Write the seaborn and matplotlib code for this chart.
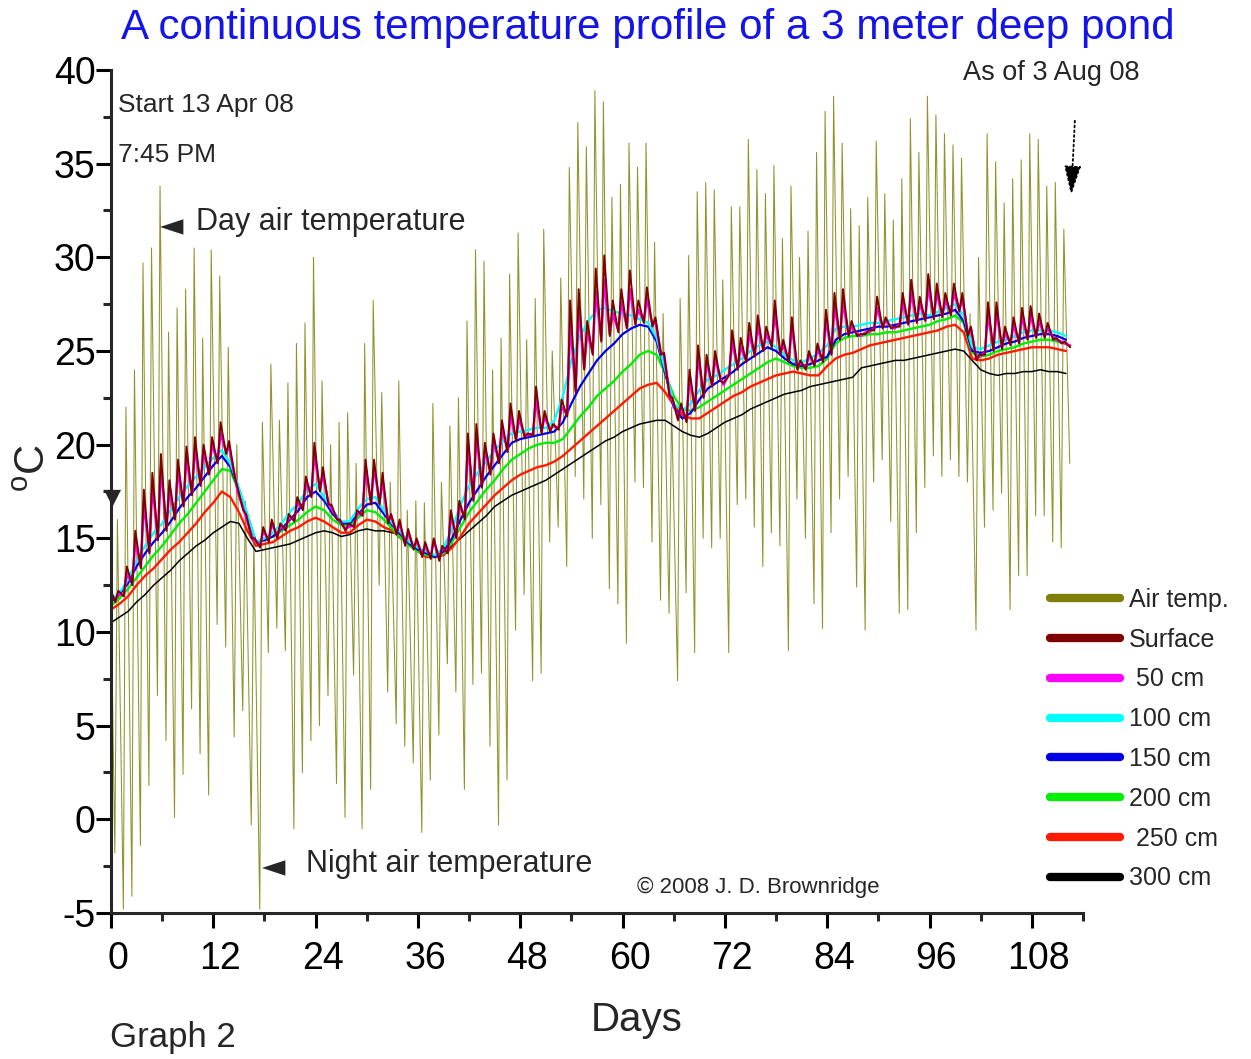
import numpy as np
import pandas as pd
import matplotlib
matplotlib.use('Agg')
import matplotlib.pyplot as plt
import matplotlib.transforms as mtransforms
from matplotlib.lines import Line2D
import seaborn as sns

# daily air temperature extremes (deg C), day 0 = 13 Apr 08 7:45 PM
air_start = 12.0
air_hi = [16.0, 22.0, 24.0, 29.7, 30.5, 33.8, 26.0, 27.3, 28.3, 30.5, 25.7, 30.4, 29.0, 25.2, 20.0, 17.0,
          15.0, 21.2, 24.3, 21.3, 23.3, 25.4, 26.5, 30.0, 23.4, 20.0, 21.2, 21.7, 19.0, 25.4, 27.7, 22.8,
          18.0, 23.4, 16.5, 17.0, 16.9, 22.2, 18.0, 21.0, 22.5, 26.6, 30.4, 29.8, 24.0, 25.7, 29.1, 31.3,
          25.6, 27.8, 31.5, 25.0, 28.9, 34.8, 37.2, 35.9, 38.9, 38.3, 33.2, 33.9, 36.1, 34.8, 36.1, 30.8,
          27.0, 22.0, 27.8, 30.1, 33.5, 34.0, 33.6, 28.8, 32.7, 32.7, 36.3, 34.7, 33.4, 34.9, 31.0, 33.8,
          30.0, 31.4, 35.6, 37.8, 38.6, 36.1, 32.6, 31.7, 33.2, 36.2, 33.4, 32.0, 34.2, 37.4, 35.6, 38.6,
          37.6, 36.6, 36.0, 35.3, 27.0, 30.0, 36.6, 35.1, 32.9, 34.2, 35.2, 36.6, 36.3, 33.8, 34.0, 31.5]
air_lo = [-1.8, -4.8, -4.1, -1.4, 1.8, 6.6, 4.2, 0.1, 2.4, 5.9, 3.5, 1.3, 10.4, 9.2, 4.4, 5.8,
          -0.3, -4.8, 8.9, 10.2, 9.0, -0.5, 2.5, 4.2, 5.0, 6.6, 1.9, 0.1, 7.7, -0.5, 1.6, 12.5,
          6.8, 5.1, 3.9, 3.0, -0.7, 2.1, 4.5, 8.3, 6.8, 1.6, 7.2, 7.8, 3.9, -0.3, 2.1, 10.1,
          12.0, 7.4, 7.8, 14.8, 15.6, 13.5, 18.3, 17.1, 15.0, 16.8, 12.3, 11.5, 9.4, 18.0, 17.7, 14.8,
          11.7, 11.0, 7.4, 12.1, 8.9, 15.0, 14.5, 15.0, 8.9, 16.8, 17.1, 15.6, 13.5, 15.3, 14.6, 9.0,
          17.1, 15.0, 11.5, 10.2, 15.3, 17.1, 18.3, 12.4, 10.1, 18.0, 19.2, 15.9, 11.0, 11.2, 15.3, 17.7,
          19.4, 18.3, 19.2, 18.3, 18.0, 10.1, 15.6, 16.5, 17.4, 11.2, 13.0, 13.0, 16.2, 16.2, 14.8, 14.5, 19.0]

# pond surface and 50 cm: daily highs / lows
surf_start = 12.2
surf_hi = [12.2, 13.5, 15.4, 17.6, 18.5, 19.5, 18.1, 19.2, 19.9, 20.4, 20.0, 20.4, 21.2, 20.2, 17.7, 16.3,
           15.0, 15.6, 16.0, 15.8, 16.3, 17.2, 18.3, 20.1, 18.8, 16.8, 16.0, 15.8, 16.5, 19.2, 19.2, 18.5,
           16.3, 16.0, 15.5, 15.0, 14.8, 15.0, 14.6, 16.5, 17.0, 20.6, 21.1, 20.1, 20.6, 21.3, 22.2, 21.8,
           20.6, 23.1, 21.8, 21.1, 22.4, 27.7, 28.3, 26.6, 29.4, 30.1, 27.7, 28.3, 29.3, 27.7, 28.4, 26.8,
           24.9, 22.5, 22.2, 24.0, 25.3, 24.8, 25.0, 23.3, 26.1, 25.7, 26.5, 26.9, 26.3, 27.7, 25.6, 26.8,
           24.5, 25.0, 25.4, 27.2, 28.1, 28.3, 26.6, 25.9, 26.1, 27.9, 26.8, 26.3, 28.1, 28.8, 27.9, 29.1,
           28.6, 28.1, 28.6, 28.1, 26.3, 24.8, 27.6, 27.6, 26.3, 26.8, 27.3, 27.4, 27.0, 26.5, 25.7, 25.5]
surf_lo = [11.6, 11.9, 12.5, 13.4, 14.2, 14.9, 15.4, 16.0, 16.7, 17.3, 17.8, 18.4, 19.0, 19.5, 18.3, 16.5,
           15.0, 14.5, 14.8, 15.0, 15.4, 15.9, 16.5, 17.2, 17.5, 16.8, 16.0, 15.4, 15.6, 16.2, 16.8, 16.8,
           15.8, 15.2, 14.6, 14.4, 14.0, 13.9, 13.8, 14.2, 15.0, 16.0, 17.0, 17.7, 18.4, 19.0, 19.6, 20.2,
           20.4, 20.5, 20.6, 20.7, 20.8, 21.5, 22.8, 24.0, 24.8, 25.5, 25.8, 26.0, 26.2, 26.4, 26.5, 26.3,
           24.8, 22.6, 21.3, 21.2, 21.8, 22.5, 23.1, 23.4, 23.7, 24.0, 24.4, 24.7, 25.0, 25.2, 24.8, 24.4,
           24.0, 24.0, 24.2, 24.4, 24.8, 25.6, 25.8, 25.8, 25.9, 26.1, 26.2, 26.2, 26.3, 26.4, 26.5, 26.6,
           26.7, 26.8, 26.9, 27.1, 25.8, 24.5, 24.8, 25.0, 25.1, 25.3, 25.4, 25.6, 25.7, 25.7, 25.6, 25.4, 25.2]
cm50_start = 12.0
cm50_hi = [12.0, 13.1, 14.8, 16.9, 17.8, 18.8, 17.6, 18.6, 19.3, 19.8, 19.6, 20.0, 20.6, 19.9, 17.5, 16.1,
           14.9, 15.4, 15.8, 15.6, 16.1, 16.9, 17.9, 19.5, 18.4, 16.6, 15.9, 15.6, 16.3, 18.7, 18.8, 18.1,
           16.2, 15.8, 15.3, 14.9, 14.6, 14.9, 14.5, 16.2, 16.8, 20.0, 20.5, 19.7, 20.2, 20.9, 21.6, 21.4,
           20.5, 22.4, 21.5, 21.0, 22.0, 26.5, 27.3, 26.0, 28.2, 28.8, 27.0, 27.6, 28.3, 27.2, 27.8, 26.6,
           24.9, 22.4, 22.0, 23.6, 24.8, 24.4, 24.6, 23.2, 25.5, 25.2, 25.9, 26.3, 25.9, 27.0, 25.3, 26.3,
           24.4, 24.8, 25.1, 26.7, 27.4, 27.6, 26.3, 25.8, 26.0, 27.3, 26.6, 26.2, 27.6, 28.1, 27.5, 28.4,
           28.1, 27.7, 28.1, 27.8, 26.2, 24.7, 27.0, 27.1, 26.0, 26.4, 26.8, 26.9, 26.6, 26.2, 25.6, 25.4]
cm50_lo = [11.7, 12.0, 12.6, 13.5, 14.3, 15.0, 15.5, 16.1, 16.8, 17.4, 17.9, 18.5, 19.1, 19.6, 18.4, 16.6,
           15.1, 14.6, 14.9, 15.1, 15.5, 16.0, 16.6, 17.3, 17.6, 16.9, 16.1, 15.5, 15.7, 16.3, 16.9, 16.9,
           15.9, 15.3, 14.7, 14.5, 14.1, 14.0, 13.9, 14.3, 15.1, 16.1, 17.1, 17.8, 18.5, 19.1, 19.7, 20.3,
           20.5, 20.6, 20.7, 20.8, 20.9, 21.6, 22.9, 24.1, 24.9, 25.6, 25.9, 26.1, 26.3, 26.5, 26.6, 26.4,
           24.9, 22.7, 21.4, 21.3, 21.9, 22.6, 23.2, 23.5, 23.8, 24.1, 24.5, 24.8, 25.1, 25.3, 24.9, 24.5,
           24.1, 24.1, 24.3, 24.5, 24.9, 25.7, 25.9, 25.9, 26.0, 26.2, 26.3, 26.3, 26.4, 26.5, 26.6, 26.7,
           26.8, 26.9, 27.0, 27.2, 25.9, 24.6, 24.9, 25.1, 25.2, 25.4, 25.5, 25.7, 25.8, 25.8, 25.7, 25.5, 25.3]

# deeper water: one reading per day, days 0..112
cm100 = [11.7, 12.1, 12.8, 13.8, 14.6, 15.3, 15.8, 16.5, 17.2, 17.8, 18.3, 18.8, 19.3, 19.7, 19.0, 17.7,
         16.3, 14.8, 15.0, 15.3, 15.8, 16.4, 16.9, 17.6, 17.9, 17.2, 16.5, 15.9, 15.9, 16.6, 17.1, 17.2,
         16.5, 15.8, 15.3, 14.8, 14.5, 14.3, 14.1, 14.5, 15.5, 16.8, 17.8, 18.5, 19.1, 19.7, 20.2, 20.6,
         20.7, 20.8, 20.9, 20.9, 21.3, 22.6, 24.5, 25.8, 26.6, 27.2, 27.3, 27.1, 27.0, 26.9, 26.7, 26.5,
         25.7, 24.0, 22.2, 21.8, 22.2, 22.9, 23.5, 23.7, 24.0, 24.3, 24.6, 25.0, 25.3, 25.5, 25.2, 24.8,
         24.5, 24.4, 24.6, 24.9, 25.3, 26.2, 26.3, 26.3, 26.4, 26.5, 26.5, 26.6, 26.7, 26.8, 26.9, 27.0,
         26.9, 27.1, 27.3, 27.5, 26.9, 25.2, 25.1, 25.3, 25.5, 25.6, 25.8, 26.0, 26.1, 26.1, 26.1, 26.0, 25.8]
cm150 = [11.6, 12.0, 12.6, 13.5, 14.2, 14.8, 15.3, 15.9, 16.6, 17.2, 17.7, 18.3, 18.9, 19.4, 18.8, 17.6,
         16.2, 14.8, 14.9, 15.1, 15.5, 16.0, 16.5, 17.2, 17.5, 17.0, 16.3, 15.8, 15.8, 16.3, 16.8, 16.9,
         16.3, 15.7, 15.2, 14.7, 14.4, 14.2, 14.0, 14.3, 15.0, 16.0, 16.9, 17.6, 18.3, 18.9, 19.5, 20.1,
         20.3, 20.4, 20.5, 20.6, 20.7, 21.2, 22.2, 23.1, 23.8, 24.5, 25.0, 25.4, 25.9, 26.2, 26.4, 26.3,
         25.5, 23.8, 22.0, 21.4, 21.7, 22.4, 23.0, 23.3, 23.6, 23.9, 24.3, 24.6, 24.9, 25.2, 25.0, 24.6,
         24.3, 24.2, 24.3, 24.5, 24.7, 25.6, 25.9, 26.0, 26.1, 26.2, 26.3, 26.3, 26.4, 26.5, 26.6, 26.7,
         26.8, 26.9, 27.0, 27.2, 26.6, 25.0, 24.9, 25.0, 25.2, 25.4, 25.5, 25.7, 25.8, 25.9, 25.9, 25.8, 25.6]
cm200 = [11.4, 11.8, 12.3, 12.9, 13.5, 14.1, 14.6, 15.2, 15.8, 16.3, 16.9, 17.5, 18.1, 18.7, 18.6, 17.5,
         16.1, 14.8, 14.9, 15.1, 15.4, 15.7, 16.0, 16.4, 16.7, 16.5, 16.0, 15.7, 15.7, 16.1, 16.5, 16.4,
         16.0, 15.5, 15.0, 14.6, 14.3, 14.1, 14.0, 14.2, 14.8, 15.6, 16.4, 17.0, 17.6, 18.1, 18.7, 19.2,
         19.5, 19.8, 20.0, 20.1, 20.1, 20.3, 20.9, 21.5, 22.0, 22.6, 23.0, 23.4, 23.9, 24.3, 24.8, 25.0,
         24.8, 23.8, 22.6, 21.9, 21.8, 22.0, 22.3, 22.6, 22.9, 23.2, 23.5, 23.8, 24.1, 24.4, 24.6, 24.4,
         24.2, 24.1, 24.1, 24.2, 24.6, 25.4, 25.7, 25.8, 25.8, 25.9, 25.9, 26.0, 26.0, 26.1, 26.2, 26.3,
         26.4, 26.6, 26.7, 26.9, 26.5, 24.9, 24.7, 24.8, 25.0, 25.1, 25.2, 25.4, 25.5, 25.6, 25.6, 25.5, 25.4]
cm250 = [11.2, 11.5, 11.9, 12.5, 13.0, 13.4, 13.9, 14.4, 14.8, 15.3, 15.8, 16.4, 16.9, 17.5, 17.2, 16.4,
         15.4, 14.6, 14.7, 14.8, 15.1, 15.4, 15.6, 15.9, 16.1, 15.9, 15.6, 15.3, 15.3, 15.7, 16.0, 15.9,
         15.6, 15.4, 15.0, 14.7, 14.3, 14.0, 14.0, 14.1, 14.5, 15.1, 15.8, 16.3, 16.8, 17.3, 17.7, 18.1,
         18.4, 18.6, 18.8, 18.9, 19.1, 19.4, 19.8, 20.2, 20.6, 21.0, 21.4, 21.8, 22.2, 22.6, 23.0, 23.2,
         23.3, 22.8, 22.1, 21.6, 21.4, 21.4, 21.7, 22.0, 22.3, 22.6, 22.8, 23.1, 23.3, 23.5, 23.7, 23.8,
         23.9, 23.8, 23.7, 23.7, 24.2, 24.6, 24.8, 24.9, 25.1, 25.3, 25.4, 25.5, 25.6, 25.7, 25.8, 25.9,
         26.0, 26.1, 26.3, 26.4, 26.0, 24.6, 24.5, 24.6, 24.8, 24.9, 25.0, 25.1, 25.2, 25.2, 25.2, 25.1, 25.0]
cm300 = [10.5, 10.8, 11.1, 11.6, 12.0, 12.5, 12.9, 13.3, 13.8, 14.2, 14.6, 14.9, 15.3, 15.6, 15.9, 15.8,
         15.0, 14.3, 14.4, 14.5, 14.6, 14.7, 14.9, 15.1, 15.3, 15.4, 15.3, 15.1, 15.2, 15.4, 15.5, 15.4,
         15.4, 15.3, 15.2, 14.8, 14.3, 14.1, 14.0, 14.2, 14.6, 15.0, 15.4, 15.8, 16.2, 16.7, 17.0, 17.3,
         17.5, 17.7, 17.9, 18.1, 18.4, 18.7, 19.0, 19.3, 19.6, 19.9, 20.2, 20.4, 20.7, 20.9, 21.1, 21.2,
         21.3, 21.3, 21.0, 20.7, 20.5, 20.4, 20.6, 20.9, 21.2, 21.4, 21.6, 21.9, 22.1, 22.3, 22.5, 22.7,
         22.8, 22.9, 23.1, 23.2, 23.3, 23.4, 23.5, 23.6, 24.1, 24.2, 24.3, 24.4, 24.5, 24.5, 24.6, 24.7,
         24.8, 24.9, 25.0, 25.1, 25.0, 24.5, 24.0, 23.8, 23.7, 23.8, 23.8, 23.9, 23.9, 24.0, 23.9, 23.9, 23.8]

labels = ['Air temp.', 'Surface', ' 50 cm', '100 cm', '150 cm', '200 cm', ' 250 cm', '300 cm']
colors = ['#7f7f08', '#800000', '#ff00ff', '#00ffff', '#0000e6', '#00ee00', '#ff1a00', '#000000']

W, H = 1251, 1059


def diurnal(start, lo, hi, t_lo, t_hi):
    # start value, then morning low / afternoon high for every day
    t, v = [0.0], [start]
    for d in range(len(lo)):
        t.append(d + t_lo)
        v.append(lo[d])
        if d < len(hi):
            t.append(d + t_hi)
            v.append(hi[d])
    return pd.DataFrame({'day': t, 'temp': v})


def daily(vals):
    return pd.DataFrame({'day': np.arange(len(vals)), 'temp': vals})


sns.set_style('ticks')
plt.rcParams['font.family'] = ['Liberation Sans', 'DejaVu Sans']
plt.rcParams['axes.unicode_minus'] = False
plt.rcParams['mathtext.fontset'] = 'custom'
plt.rcParams['mathtext.rm'] = 'Liberation Sans'

fig = plt.figure(figsize=(W / 100, H / 100), dpi=100)
ax = fig.add_axes([111 / W, 1 - 913 / H, (1083 - 111) / W, (913 - 70) / H])

series = [
    (diurnal(air_start, air_lo, air_hi, 0.45, 0.75), colors[0], 0.75, 0.85),
    (daily(cm300), colors[7], 1.1, 1),
    (daily(cm250), colors[6], 1.7, 1),
    (daily(cm200), colors[5], 1.7, 1),
    (daily(cm150), colors[4], 1.6, 1),
    (daily(cm100), colors[3], 1.7, 1),
    (diurnal(cm50_start, cm50_lo, cm50_hi, 0.5, 0.85), colors[2], 1.8, 1),
    (diurnal(surf_start, surf_lo, surf_hi, 0.5, 0.85), colors[1], 1.4, 1),
]
for df, c, lw, a in series:
    sns.lineplot(data=df, x='day', y='temp', color=c, lw=lw, alpha=a, ax=ax,
                 estimator=None, sort=False, legend=False)

ax.set_xlim(0, 114)
ax.set_ylim(-5, 40)
ax.set_xticks(np.arange(0, 109, 12))
ax.set_xticks(np.arange(6, 115, 12), minor=True)
ax.set_yticks(np.arange(-5, 41, 5))
ax.set_yticks(np.arange(-2.5, 40, 5), minor=True)
ax.set_xlabel('')
ax.set_ylabel('')
sns.despine(ax=ax)
for s in ['left', 'bottom']:
    ax.spines[s].set_linewidth(2.2)
ax.tick_params(which='major', length=11, width=2.2, labelsize=27, colors='black')
ax.tick_params(which='minor', length=5.5, width=2.2)
ax.tick_params(axis='y', pad=0)
ax.tick_params(axis='x', pad=9)
shift = mtransforms.ScaledTranslation(0.07, 0, fig.dpi_scale_trans)
for lab in ax.get_xticklabels():
    lab.set_transform(lab.get_transform() + shift)


def ftext(px, py, s, **kw):
    fig.text(px / W, 1 - py / H, s, **kw)


ftext(648, 28, 'A continuous temperature profile of a 3 meter deep pond',
      ha='center', va='center', fontsize=30.3, color='#1414e6')
ftext(637, 1020, 'Days', ha='center', va='center', fontsize=29)
ftext(34, 468, r'$^{\mathrm{o}}$C', ha='center', va='center', fontsize=30, rotation=90)
ftext(118, 105, 'Start 13 Apr 08', ha='left', va='center', fontsize=19)
ftext(118, 155, '7:45 PM', ha='left', va='center', fontsize=19)
ftext(160, 227, '\u25c4', ha='left', va='center', fontsize=22, family='DejaVu Sans')
ftext(196, 222, 'Day air temperature', ha='left', va='center', fontsize=22)
ftext(262, 868, '\u25c4', ha='left', va='center', fontsize=22, family='DejaVu Sans')
ftext(306, 864, 'Night air temperature', ha='left', va='center', fontsize=22)
ftext(963, 73, 'As of 3 Aug 08', ha='left', va='center', fontsize=19.5)
ftext(637, 887, '\u00a9 2008 J. D. Brownridge', ha='left', va='center', fontsize=16)
ftext(110, 1038, 'Graph 2', ha='left', va='center', fontsize=25)
ftext(113, 497, '\u25bc', ha='center', va='center', fontsize=16, family='DejaVu Sans')

ax.annotate('', xy=(1071 / W, 1 - 198 / H), xytext=(1075 / W, 1 - 118 / H),
            xycoords='figure fraction', textcoords='figure fraction',
            arrowprops=dict(arrowstyle='-|>,head_length=0.7,head_width=0.2', linestyle=':',
                            lw=1.3, color='black', mutation_scale=26))

handles = [Line2D([0], [0], color=c, lw=6, solid_capstyle='round') for c in colors]
ax.legend(handles, labels, loc='upper left', bbox_to_anchor=(1050 / W, 1 - 588 / H),
          bbox_transform=fig.transFigure, frameon=False, fontsize=18, handlelength=2.8,
          handletextpad=0.35, labelspacing=0.63, borderpad=0, borderaxespad=0)

fig.savefig('out.png', dpi=100)
